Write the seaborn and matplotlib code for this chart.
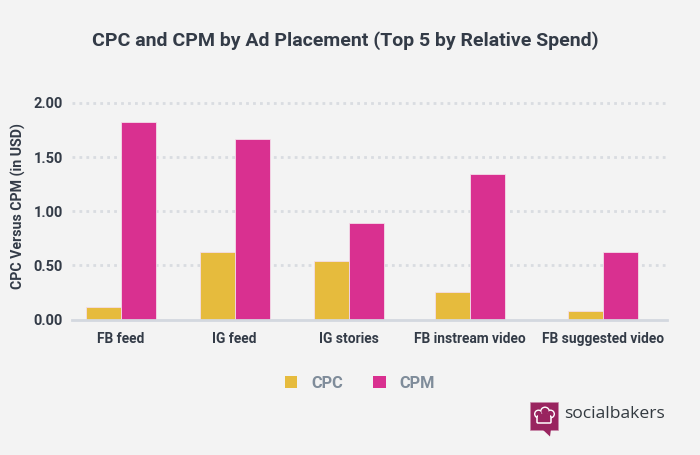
#!/usr/bin/env python3
"""CPC and CPM by ad placement, grouped bar chart"""

import pandas as pd
import matplotlib.pyplot as plt
from matplotlib.patches import Circle, Polygon, Rectangle, FancyBboxPatch
import seaborn as sns

placements = ['FB feed', 'IG feed', 'IG stories', 'FB instream video', 'FB suggested video']
cpc_values = [0.12, 0.62, 0.54, 0.25, 0.08]
cpm_values = [1.82, 1.67, 0.89, 1.34, 0.62]
y_ticks = [0.0, 0.5, 1.0, 1.5, 2.0]

# group centres in pixels, the original spaces groups by label width
group_centers = [121, 234.5, 349, 470, 603]

BG = '#f3f3f3'
YELLOW = '#e6bb3d'
PINK = '#d93090'
DARK = '#333b47'
MAROON = '#99245f'
W, H = 700, 455


def px_text(fig, x, y, s, **kw):
    """Figure text placed in pixel coordinates from top left"""
    return fig.text(x / W, 1 - y / H, s, **kw)


def draw_logo(fig):
    """Socialbakers mark and wordmark"""
    logo = fig.add_axes([0, 0, 1, 1], facecolor='none')
    logo.set_xlim(0, W)
    logo.set_ylim(H, 0)
    logo.axis('off')
    logo.add_patch(Rectangle((529.5, 401.5), 28, 28, fc=MAROON, ec='#c98aaa', lw=0.5))
    logo.add_patch(Polygon([[542, 429], [551, 429], [550, 436.5]], fc=MAROON, ec='none'))
    # chef hat: white puffs with the inside cut out again
    puffs = [(538.5, 414, 4.5), (545, 411.5, 5), (550.5, 414, 4.5)]
    for x, y, r in puffs:
        logo.add_patch(Circle((x, y), r, fc='white', ec='none'))
    for x, y, r in puffs:
        logo.add_patch(Circle((x, y), r - 1.4, fc=MAROON, ec='none'))
    logo.add_patch(FancyBboxPatch((538, 417), 12, 5, boxstyle='round,pad=1', fc=MAROON, ec='white', lw=1.1))
    logo.add_patch(Rectangle((538, 414), 12, 4.5, fc=MAROON, ec='none'))
    logo.text(564, 414.5, 'socialbakers', fontsize=12.6, color='#333a40', va='center', ha='left',
              family='Open Sans', fontweight='medium')


def main():
    df = pd.DataFrame({
        'center': group_centers * 2,
        'value': cpc_values + cpm_values,
        'metric': ['CPC'] * len(cpc_values) + ['CPM'] * len(cpm_values),
    })

    sns.set_theme(style='white')
    plt.rcParams['font.family'] = ['Roboto', 'DejaVu Sans']

    fig = plt.figure(figsize=(W / 100, H / 100), dpi=100, facecolor=BG)
    ax = fig.add_axes([72 / W, 1 - 319.5 / H, (667 - 72) / W, (319.5 - 103) / H], facecolor=BG)

    sns.barplot(data=df, x='center', y='value', hue='metric', native_scale=True,
                palette={'CPC': YELLOW, 'CPM': PINK}, width=70 / 113.5, gap=0,
                edgecolor='#f4dde9', linewidth=0.6, saturation=1, ax=ax, legend=False, zorder=3)

    ax.set_xlim(72, 667)
    ax.set_ylim(0, 2)
    ax.set_xticks(group_centers)
    ax.set_xticklabels(placements, fontsize=9.95, fontweight='bold', color=DARK)
    ax.set_yticks(y_ticks)
    ax.set_yticklabels([f'{v:.2f}' for v in y_ticks], fontsize=10.5, fontweight='bold', color=DARK)
    ax.tick_params(axis='both', length=0)
    ax.tick_params(axis='x', pad=9)
    ax.tick_params(axis='y', pad=6.5)
    ax.set_xlabel('')
    ax.set_ylabel('')

    for v in y_ticks[1:]:
        ax.axhline(v, color='#d9dce1', lw=2, ls=(0, (1, 1.5)), zorder=1, clip_on=False)

    sns.despine(ax=ax, left=True, top=True, right=True, bottom=False)
    ax.spines['bottom'].set_color('#d3d8df')
    ax.spines['bottom'].set_linewidth(2)
    ax.spines['bottom'].set_zorder(4)

    px_text(fig, 18, 206, 'CPC Versus CPM (in USD)', fontsize=10.2, fontweight='bold', color=DARK,
            rotation=90, ha='center', va='center')
    px_text(fig, 345.5, 41, 'CPC and CPM by Ad Placement (Top 5 by Relative Spend)', fontsize=14,
            fontweight='bold', color=DARK, ha='center', va='center')

    handles = [Rectangle((0, 0), 1, 1, fc=YELLOW, ec='none'), Rectangle((0, 0), 1, 1, fc=PINK, ec='none')]
    fig.legend(handles, ['CPC', 'CPM'], loc='center', bbox_to_anchor=(360 / W, 1 - 383 / H), ncol=2,
               frameon=False, handlelength=0.75, handleheight=0.75, handletextpad=0.85, columnspacing=1.85,
               prop={'family': 'Roboto', 'weight': 'bold', 'size': 11.8}, labelcolor='#7f8c9a')

    draw_logo(fig)
    fig.savefig('out.png', dpi=100, facecolor=BG)


if __name__ == '__main__':
    main()
